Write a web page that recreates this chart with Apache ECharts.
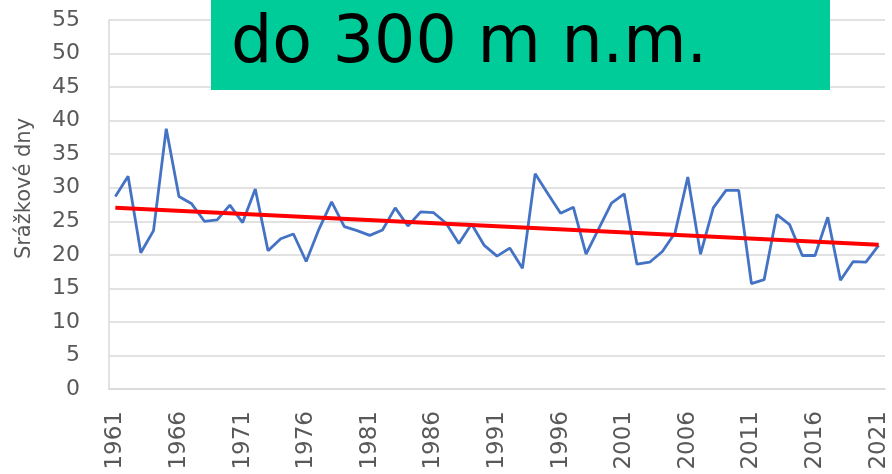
<!DOCTYPE html>
<html>
<head>
<meta charset="utf-8">
<script src="https://cdn.jsdelivr.net/npm/echarts@6/dist/echarts.min.js"></script>
<style>
  html, body { margin: 0; padding: 0; background: #ffffff; }
  #chart { width: 892px; height: 474px; }
</style>
</head>
<body>
<div id="chart"></div>
<script>
// Years 1961–2021
const years = [];
for (let y = 1961; y <= 2021; y++) years.push(String(y));

// Number of precipitation days per year
const rainDays = [
  28.7, 31.7, 20.3, 23.6, 38.8, 28.7, 27.6, 25.0, 25.2, 27.4,
  24.8, 29.8, 20.6, 22.4, 23.1, 19.0, 23.8, 27.9, 24.2, 23.6,
  22.9, 23.7, 27.0, 24.3, 26.4, 26.3, 24.7, 21.7, 24.6, 21.4,
  19.8, 21.0, 18.0, 32.1, 29.1, 26.2, 27.1, 20.1, 23.9, 27.7,
  29.1, 18.6, 18.9, 20.5, 23.3, 31.6, 20.1, 27.0, 29.6, 29.6,
  15.7, 16.3, 26.0, 24.5, 19.9, 19.9, 25.6, 16.2, 19.0, 18.9,
  21.4
];

// Linear trend, start and end values
const trendYears = ['1961', '2021'];
const trendValues = [27.0, 21.5];

const yAxisName = 'Srážkové dny';
const titleText = 'do 300 m n.m.';

const labelFont = 'DejaVu Sans, sans-serif';
const gridGrey = '#d9d9d9';
const textGrey = '#595959';

const chart = echarts.init(document.getElementById('chart'));
chart.setOption({
  animation: false,
  backgroundColor: '#ffffff',
  grid: { left: 109, right: 7, top: 20, bottom: 85 },
  xAxis: {
    type: 'category',
    data: years,
    boundaryGap: true,
    axisLine: { show: true, lineStyle: { color: gridGrey, width: 1.5 } },
    axisTick: { show: false },
    axisLabel: {
      interval: 4,
      rotate: 90,
      margin: 22,
      fontSize: 23,
      color: textGrey,
      fontFamily: labelFont
    }
  },
  yAxis: {
    type: 'value',
    min: 0,
    max: 55,
    interval: 5,
    name: yAxisName,
    nameLocation: 'middle',
    nameGap: 74,
    nameTextStyle: {
      fontSize: 21,
      color: textGrey,
      fontFamily: labelFont,
      padding: [0, 0, 0, 32]
    },
    axisLine: { show: true, lineStyle: { color: gridGrey, width: 1.5 } },
    axisTick: { show: false },
    axisLabel: {
      margin: 29,
      fontSize: 22,
      color: textGrey,
      fontFamily: labelFont
    },
    splitLine: { lineStyle: { color: gridGrey, width: 1.5 } }
  },
  series: [
    {
      type: 'line',
      data: rainDays,
      symbol: 'none',
      lineStyle: { color: '#4472c4', width: 2.8 },
      z: 2
    },
    {
      type: 'line',
      data: trendYears.map((y, i) => [y, trendValues[i]]),
      symbol: 'none',
      lineStyle: { color: '#ff0000', width: 4 },
      z: 3
    }
  ],
  graphic: [
    {
      type: 'rect',
      z: 100,
      zlevel: 1,
      shape: { x: 211, y: 0, width: 619, height: 90 },
      style: { fill: '#00cc99' }
    },
    {
      type: 'text',
      z: 101,
      zlevel: 1,
      x: 231,
      y: 45,
      style: {
        text: titleText,
        fontSize: 65,
        fill: '#000000',
        fontFamily: 'DejaVu Sans, sans-serif',
        verticalAlign: 'middle'
      }
    }
  ]
});
</script>
</body>
</html>
